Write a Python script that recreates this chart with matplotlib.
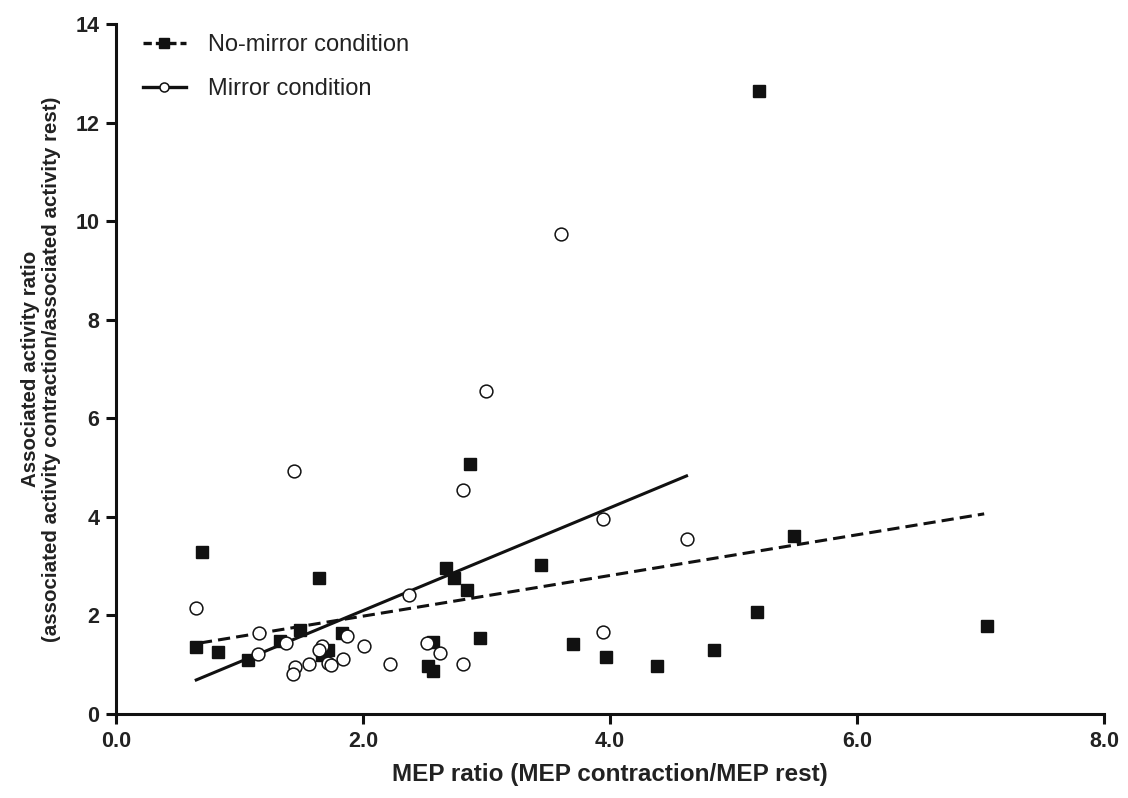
import matplotlib
matplotlib.use("Agg")
import matplotlib.pyplot as plt
from matplotlib.ticker import FormatStrFormatter

plt.rcParams['font.family'] = ['Liberation Sans', 'DejaVu Sans']

# No-mirror condition (filled squares)
nomirror_x = [0.70, 0.65, 0.83, 1.07, 1.33, 1.49, 1.64, 1.67, 1.72, 1.83,
              2.53, 2.57, 2.57, 2.67, 2.74, 2.84, 2.87, 2.95, 3.44, 3.70,
              3.97, 4.38, 4.84, 5.19, 5.21, 5.49, 7.05]
nomirror_y = [3.29, 1.36, 1.26, 1.10, 1.48, 1.70, 2.76, 1.20, 1.30, 1.64,
              0.97, 0.87, 1.46, 2.96, 2.76, 2.52, 5.07, 1.54, 3.02, 1.42,
              1.16, 0.97, 1.30, 2.07, 12.64, 3.61, 1.78]

# Mirror condition (open circles)
mirror_x = [0.65, 1.16, 1.15, 1.38, 1.45, 1.43, 1.56, 1.67, 1.64, 1.72,
            1.74, 1.84, 1.87, 2.01, 2.22, 2.37, 2.52, 2.62, 2.81, 2.81,
            3.94, 3.94, 4.62, 1.44, 3.00, 3.60]
mirror_y = [2.15, 1.64, 1.22, 1.44, 0.96, 0.81, 1.01, 1.38, 1.30, 1.03,
            0.99, 1.11, 1.58, 1.38, 1.01, 2.41, 1.44, 1.24, 1.01, 4.54,
            3.96, 1.66, 3.55, 4.93, 6.55, 9.74]

# Regression lines (endpoints)
nomirror_fit_x = [0.68, 7.03]
nomirror_fit_y = [1.44, 4.06]
mirror_fit_x = [0.65, 4.62]
mirror_fit_y = [0.69, 4.83]

x_ticks = [0.0, 2.0, 4.0, 6.0, 8.0]
y_ticks = [0, 2, 4, 6, 8, 10, 12, 14]

fig = plt.figure(figsize=(11.28, 7.98), dpi=100)
ax = fig.add_axes([0.1028, 0.1053, 0.8759, 0.8647])

ax.plot(nomirror_fit_x, nomirror_fit_y, color='#111111', lw=2.2,
        ls=(0, (4, 2)), zorder=2)
ax.plot(mirror_fit_x, mirror_fit_y, color='#111111', lw=2.2, zorder=2)
ax.plot(nomirror_x, nomirror_y, ls='none', marker='s', ms=8.5,
        mfc='#111111', mec='#111111', zorder=3)
ax.plot(mirror_x, mirror_y, ls='none', marker='o', ms=9.2,
        mfc='white', mec='#111111', mew=1.1, zorder=3)

# legend handles
h1, = ax.plot([], [], color='#111111', lw=2.4, ls=(0, (2.5, 1.2)), marker='s',
              ms=6.5, mfc='#111111', mec='#111111')
h2, = ax.plot([], [], color='#111111', lw=2.4, marker='o', ms=6.5,
              mfc='white', mec='#111111', mew=1.1)
leg = ax.legend([h1, h2], ['No-mirror condition', 'Mirror condition'],
                loc='upper left', bbox_to_anchor=(0.006, 1.016), frameon=False,
                fontsize=17, handlelength=1.8, handletextpad=0.95,
                labelspacing=0.92)
for t in leg.get_texts():
    t.set_color('#222222')

ax.set_xlim(0, 8)
ax.set_ylim(0, 14)
ax.set_xticks(x_ticks)
ax.set_yticks(y_ticks)
ax.xaxis.set_major_formatter(FormatStrFormatter('%.1f'))

for s in ['top', 'right']:
    ax.spines[s].set_visible(False)
for s in ['left', 'bottom']:
    ax.spines[s].set_linewidth(2.2)
    ax.spines[s].set_color('#111111')

ax.tick_params(axis='both', direction='out', length=7, width=2.2,
               color='#111111', labelsize=15.5, pad=5)
for lab in ax.get_xticklabels() + ax.get_yticklabels():
    lab.set_fontweight('bold')
    lab.set_color('#222222')

ax.set_xlabel('MEP ratio (MEP contraction/MEP rest)', fontsize=17.5,
              fontweight='bold', color='#222222', labelpad=8)
ax.set_ylabel('Associated activity ratio\n(associated activity contraction/associated activity rest)',
              fontsize=14.8, fontweight='bold', color='#222222', labelpad=10,
              linespacing=1.15)

fig.savefig('out.png', dpi=100)
